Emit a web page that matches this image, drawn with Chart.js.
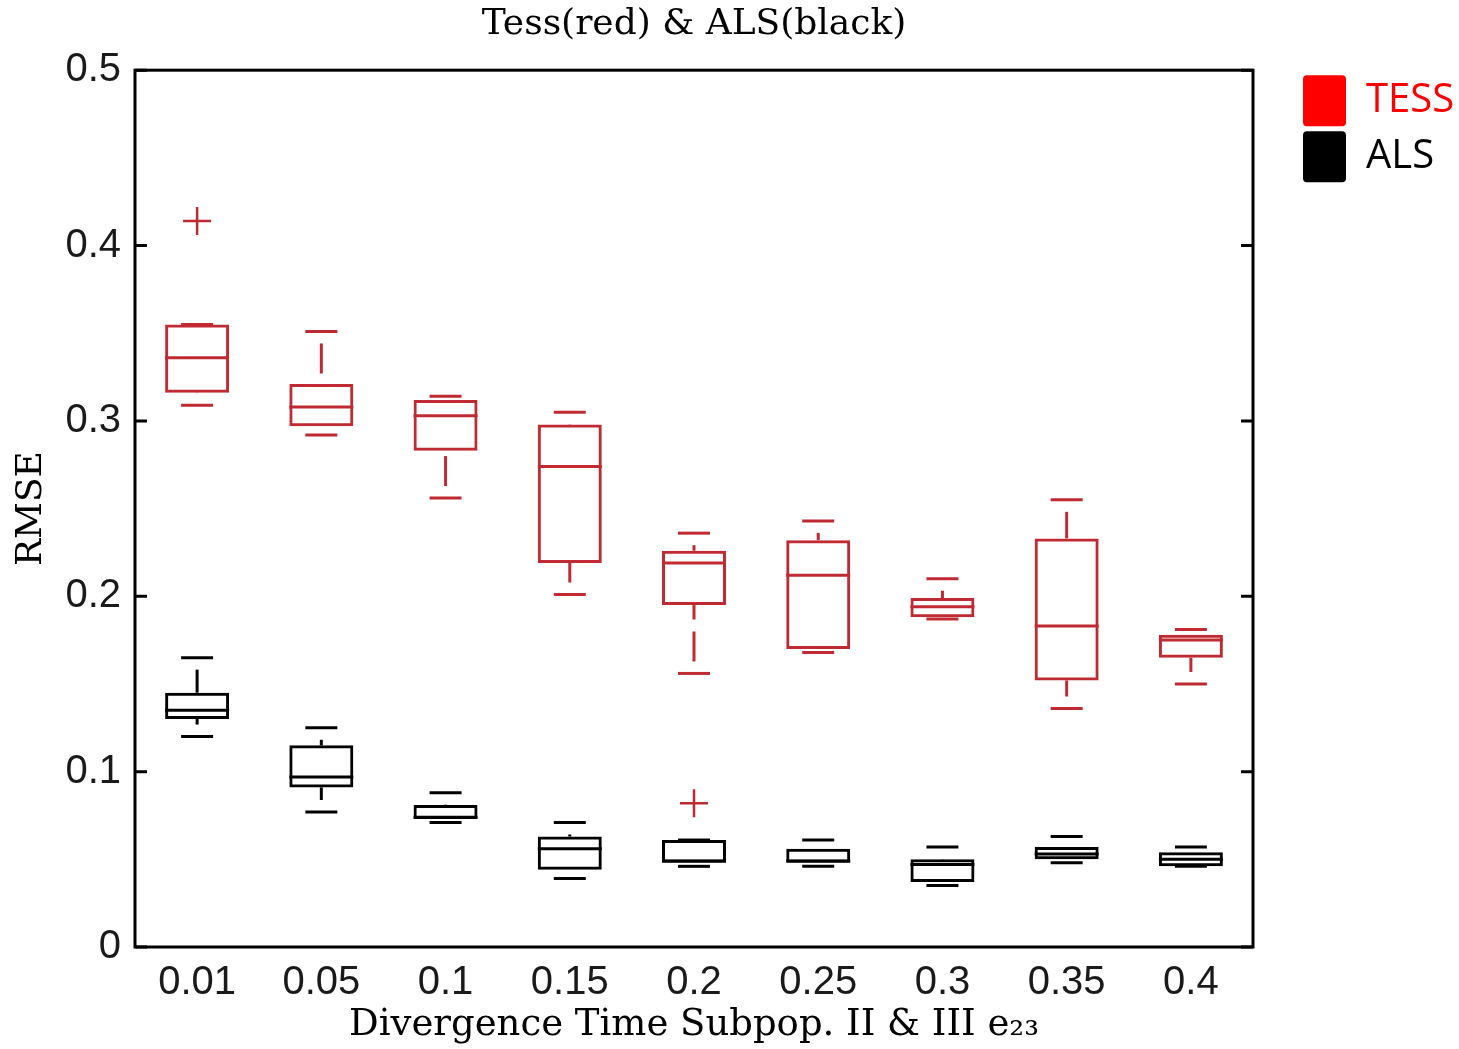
<!DOCTYPE html>
<html>
<head>
<meta charset="utf-8">
<script src="https://cdn.jsdelivr.net/npm/chart.js@4.4.0/dist/chart.umd.min.js"></script>
<style>
  html, body { margin: 0; padding: 0; background: #fff; }
  #contenedor { width: 1459px; height: 1049px; }
</style>
</head>
<body>
<div id="contenedor"><canvas id="graficoRmse"></canvas></div>
<script>
// Categorias del eje x (tiempo de divergencia)
const categorias = ["0.01", "0.05", "0.1", "0.15", "0.2", "0.25", "0.3", "0.35", "0.4"];

// TESS (rojo): bigote inferior, Q1, mediana, Q3, bigote superior
const tessMin = [0.309, 0.292, 0.256, 0.201, 0.156, 0.168, 0.187, 0.136, 0.150];
const tessQ1  = [0.316, 0.297, 0.283, 0.219, 0.195, 0.170, 0.188, 0.152, 0.165];
const tessMed = [0.336, 0.308, 0.303, 0.274, 0.219, 0.212, 0.194, 0.183, 0.175];
const tessQ3  = [0.355, 0.321, 0.312, 0.298, 0.226, 0.232, 0.199, 0.233, 0.178];
const tessMax = [0.355, 0.351, 0.314, 0.305, 0.236, 0.243, 0.210, 0.255, 0.181];
const tessAtipicos = [0.414, null, null, null, null, null, null, null, null];

// ALS (negro)
const alsMin = [0.120, 0.077, 0.071, 0.039, 0.046, 0.046, 0.035, 0.048, 0.046];
const alsQ1  = [0.130, 0.091, 0.073, 0.044, 0.048, 0.048, 0.037, 0.050, 0.046];
const alsMed = [0.135, 0.097, 0.074, 0.056, 0.049, 0.049, 0.047, 0.053, 0.050];
const alsQ3  = [0.145, 0.115, 0.081, 0.063, 0.061, 0.056, 0.050, 0.057, 0.054];
const alsMax = [0.165, 0.125, 0.088, 0.071, 0.061, 0.061, 0.057, 0.063, 0.057];
const alsAtipicos = [null, null, null, null, 0.082, null, null, null, null];

// Ticks del eje y
const ticksY = [0, 0.1, 0.2, 0.3, 0.4, 0.5];

const ROJO = "#bf2a33";
const NEGRO = "#000000";
const GROSOR = 3;

const series = [
  { color: ROJO, min: tessMin, q1: tessQ1, med: tessMed, q3: tessQ3, max: tessMax },
  { color: NEGRO, min: alsMin, q1: alsQ1, med: alsMed, q3: alsQ3, max: alsMax },
];

// Medianas y bigotes (con linea discontinua) dibujados con la escala y
const bigotesPlugin = {
  id: "bigotes",
  afterDatasetsDraw(chart) {
    const ctx = chart.ctx;
    const y = chart.scales.y;
    series.forEach((s, d) => {
      const meta = chart.getDatasetMeta(d);
      meta.data.forEach((barra, i) => {
        const x = barra.x;
        const mitad = barra.width / 2;
        const tapa = barra.width / 4;
        ctx.save();
        ctx.strokeStyle = s.color;
        ctx.lineWidth = GROSOR;

        // mediana
        const yMed = y.getPixelForValue(s.med[i]);
        ctx.beginPath();
        ctx.moveTo(x - mitad, yMed);
        ctx.lineTo(x + mitad, yMed);
        ctx.stroke();

        const tramos = [[s.max[i], s.q3[i]], [s.min[i], s.q1[i]]];
        tramos.forEach(([extremo, caja]) => {
          const yE = y.getPixelForValue(extremo);
          const yC = y.getPixelForValue(caja);
          if (Math.abs(yE - yC) > 1) {
            ctx.setLineDash([30, 12]);
            ctx.lineDashOffset = 30;
            ctx.beginPath();
            ctx.moveTo(x, yE);
            ctx.lineTo(x, yC);
            ctx.stroke();
            ctx.setLineDash([]);
          }
          ctx.beginPath();
          ctx.moveTo(x - tapa, yE);
          ctx.lineTo(x + tapa, yE);
          ctx.stroke();
        });
        ctx.restore();
      });
    });
  },
};

// Marco tipo MATLAB con ticks hacia dentro
const marcoPlugin = {
  id: "marco",
  afterDraw(chart) {
    const { ctx, chartArea: a } = chart;
    const y = chart.scales.y;
    ctx.save();
    ctx.strokeStyle = "#000";
    ctx.lineWidth = GROSOR;
    ctx.strokeRect(a.left, a.top, a.right - a.left, a.bottom - a.top);
    ticksY.forEach((v) => {
      const py = y.getPixelForValue(v);
      ctx.beginPath();
      ctx.moveTo(a.left, py);
      ctx.lineTo(a.left + 12, py);
      ctx.moveTo(a.right, py);
      ctx.lineTo(a.right - 12, py);
      ctx.stroke();
    });
    ctx.restore();
  },
};

document.addEventListener("DOMContentLoaded", () => {
  const ctx = document.getElementById("graficoRmse").getContext("2d");

  new Chart(ctx, {
    type: "bar",
    data: {
      labels: categorias,
      datasets: [
        {
          label: "TESS",
          data: tessQ1.map((v, i) => [v, tessQ3[i]]),
          backgroundColor: "rgba(0,0,0,0)",
          borderColor: ROJO,
          borderWidth: GROSOR,
          borderSkipped: false,
          grouped: false,
        },
        {
          label: "ALS",
          data: alsQ1.map((v, i) => [v, alsQ3[i]]),
          backgroundColor: "rgba(0,0,0,0)",
          borderColor: NEGRO,
          borderWidth: GROSOR,
          borderSkipped: false,
          grouped: false,
        },
        {
          type: "line",
          label: "atipicos TESS",
          data: tessAtipicos,
          showLine: false,
          pointStyle: "cross",
          pointRadius: 14,
          pointBorderWidth: 2.5,
          pointBorderColor: ROJO,
        },
        {
          type: "line",
          label: "atipicos ALS",
          data: alsAtipicos,
          showLine: false,
          pointStyle: "cross",
          pointRadius: 14,
          pointBorderWidth: 2.5,
          pointBorderColor: ROJO,
        },
      ],
    },
    options: {
      responsive: true,
      maintainAspectRatio: false,
      animation: false,
      layout: { padding: 0 },
      datasets: {
        bar: { categoryPercentage: 1, barPercentage: 0.515 },
      },
      plugins: {
        tooltip: { enabled: false },
        title: {
          display: true,
          fullSize: false,
          text: "Tess(red) & ALS(black)",
          color: "#000",
          font: { family: "DejaVu Serif", size: 36, weight: "normal" },
          padding: { top: 3, bottom: 24 },
        },
        legend: {
          position: "right",
          align: "start",
          fullSize: false,
          maxWidth: 161,
          labels: {
            boxWidth: 43,
            boxHeight: 51,
            padding: 5,
            useBorderRadius: true,
            borderRadius: 4,
            font: { family: "Open Sans", size: 40 },
            generateLabels: () => [
              { text: "TESS", fillStyle: "#ff0000", strokeStyle: "#ff0000", fontColor: "#ff0000", lineWidth: 0, borderRadius: 4, hidden: false, datasetIndex: 0 },
              { text: "ALS", fillStyle: "#000000", strokeStyle: "#000000", fontColor: "#000000", lineWidth: 0, borderRadius: 4, hidden: false, datasetIndex: 1 },
            ],
          },
          onClick: () => {},
        },
      },
      scales: {
        x: {
          grid: { display: false, drawTicks: false },
          border: { display: false },
          ticks: {
            color: "#1a1a1a",
            padding: 12,
            font: { family: "Liberation Sans", size: 40 },
            maxRotation: 0,
          },
          title: {
            display: true,
            text: "Divergence Time Subpop. II & III e₂₃",
            color: "#000",
            font: { family: "DejaVu Serif", size: 37 },
            padding: { top: 0, bottom: 1 },
          },
          afterFit: (escala) => { escala.height = 102; },
        },
        y: {
          min: 0,
          max: 0.5,
          grid: { display: false, drawTicks: false },
          border: { display: false },
          ticks: {
            stepSize: 0.1,
            color: "#1a1a1a",
            padding: 14,
            font: { family: "Liberation Sans", size: 40 },
          },
          title: {
            display: true,
            text: "RMSE",
            color: "#000",
            font: { family: "DejaVu Serif", size: 36 },
            padding: { top: 10, bottom: 0 },
          },
          afterFit: (escala) => { escala.width = 135; },
        },
        y2: {
          position: "right",
          min: 0,
          max: 0.5,
          grid: { display: false, drawTicks: false },
          border: { display: false },
          ticks: { display: false },
          afterFit: (escala) => { escala.width = 45; },
        },
      },
    },
    plugins: [bigotesPlugin, marcoPlugin],
  });
});
</script>
</body>
</html>
